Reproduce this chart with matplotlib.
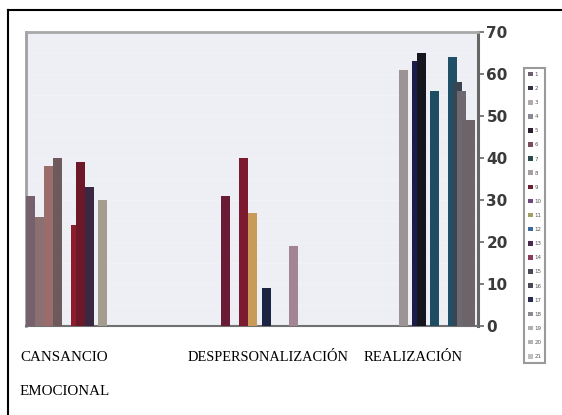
import matplotlib
matplotlib.use("Agg")
import matplotlib.pyplot as plt
from matplotlib.lines import Line2D
from matplotlib.patches import Patch
import numpy as np

# burnout scores per respondent (21 series), one list per dimension
categories = ["CANSANCIO\n\nEMOCIONAL", "DESPERSONALIZACIÓN", "REALIZACIÓN"]
cansancio = [31, 0, 26, 0, 38, 0, 40, 0, 0, 0, 24, 39, 0, 33, 0, 0, 30, 0, 0, 0, 0]
despersonalizacion = [0, 0, 0, 31, 0, 0, 0, 40, 0, 27, 0, 0, 9, 0, 0, 0, 0, 0, 19, 0, 0]
realizacion = [0, 0, 61, 0, 0, 63, 65, 0, 0, 56, 0, 0, 0, 64, 58, 56, 49, 49, 0, 0, 0]
series_labels = [str(i) for i in range(1, 22)]
yticks = [0, 10, 20, 30, 40, 50, 60, 70]

legend_colors = ["#6a6070", "#3a3040", "#b0aab0", "#8a8a95", "#2a2030", "#7a4a60",
                 "#2a4a50", "#a8a0a0", "#6a2030", "#6a4a7a", "#a0a060", "#3a6a9a",
                 "#4a2a50", "#8a3a5a", "#4a4a55", "#4a4a55", "#2a2a50", "#8a8a90",
                 "#b0b0b0", "#b5b5b5", "#c0c0c0"]

# bar colours per series, per dimension
bar_colors = {
    0: ["#76606e"] * 3,
    2: ["#8a7070", "#8a7070", "#9c9494"],
    3: ["#6a1c36"] * 3,
    4: ["#9a6c6c"] * 3,
    5: ["#1c1c48"] * 3,
    6: ["#6e5a5c", "#6e5a5c", "#16161e"],
    7: ["#7c1a30"] * 3,
    9: ["#c89c58", "#c89c58", "#1e4c62"],
    10: ["#8a1c2c"] * 3,
    11: ["#6c1828"] * 3,
    12: ["#1c2444"] * 3,
    13: ["#3a2842", "#3a2842", "#1f5068"],
    14: ["#3a4552"] * 3,
    15: ["#6e6870"] * 3,
    16: ["#a49c8c", "#a49c8c", "#6c6468"],
    17: ["#6c6468"] * 3,
    18: ["#a28492"] * 3,
}

W, H = 562, 415
fig = plt.figure(figsize=(W / 100, H / 100), dpi=100)
fig.patch.set_facecolor("white")
ax = fig.add_axes([26 / W, (H - 326) / H, (478 - 26) / W, (326 - 32) / H])
ax.set_facecolor("#edeff5")

pitch = 40.4
group_x = np.arange(len(categories)) * pitch
data = np.array([cansancio, despersonalizacion, realizacion])
for k in range(data.shape[1]):
    cols = bar_colors.get(k, [legend_colors[k]] * 3)
    ax.bar(group_x + k, data[:, k], width=2.0, align="edge", color=cols,
           edgecolor="none", zorder=3)

ax.set_xlim(0, 100.4)
ax.set_ylim(0, 70)
ax.set_xticks([])
ax.yaxis.tick_right()
ax.set_yticks(yticks)
ax.tick_params(axis="y", direction="out", length=4, width=1.2, color="#666666",
               labelsize=11, labelcolor="#3a3a3a", pad=2)
for lbl in ax.get_yticklabels():
    lbl.set_fontweight("bold")

# faint background grid
for y in np.arange(5, 70, 5):
    ax.axhline(y, color="#f2f3f7", lw=0.7, zorder=1)
for x in np.arange(0, 100.4, 4.0):
    ax.axvline(x, color="#f0f1f6", lw=0.5, zorder=1)

ax.spines["left"].set_color("#a0a0a0")
ax.spines["left"].set_linewidth(2)
ax.spines["top"].set_color("#a8a8a8")
ax.spines["top"].set_linewidth(2)
ax.spines["right"].set_color("#666666")
ax.spines["right"].set_linewidth(2.2)
ax.spines["bottom"].set_color("#707070")
ax.spines["bottom"].set_linewidth(1.5)

# dimension names under the bars
serif = "Liberation Serif"
fig.text(20 / W, 1 - 357 / H, "CANSANCIO", family=serif, size=10.8, va="center")
fig.text(20 / W, 1 - 391 / H, "EMOCIONAL", family=serif, size=10.8, va="center")
fig.text(188 / W, 1 - 357 / H, categories[1], family=serif, size=10.4, va="center")
fig.text(364 / W, 1 - 357 / H, categories[2], family=serif, size=10.6, va="center")

handles = [Patch(facecolor=c, edgecolor="none") for c in legend_colors]
leg = fig.legend(handles, series_labels, loc="upper left",
                 bbox_to_anchor=(521 / W, 1 - 65 / H), fontsize=4,
                 handlelength=0.9, handleheight=0.9, handletextpad=0.3,
                 labelspacing=1.6, borderpad=0.7, fancybox=False,
                 framealpha=1)
leg.get_frame().set_edgecolor("#9a9a9a")
leg.get_frame().set_linewidth(1.5)
for t in leg.get_texts():
    t.set_color("#555555")

# outer frame (left and top edges only)
fig.add_artist(Line2D([8 / W, 8 / W], [0, 1 - 10 / H], color="black", lw=1.5))
fig.add_artist(Line2D([8 / W, 1], [1 - 10 / H, 1 - 10 / H], color="black", lw=1.5))

fig.savefig("out.png", dpi=100)
